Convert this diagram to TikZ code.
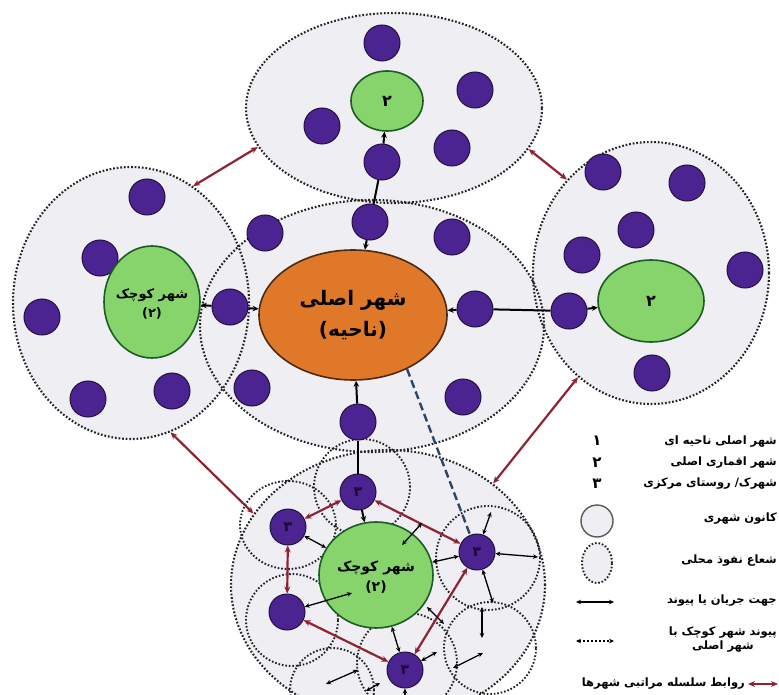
\documentclass[tikz,border=0pt]{standalone}
\usepackage{fontspec}
\usetikzlibrary{shapes.geometric,arrows.meta}
\TeXXeTstate=1
\newfontfamily\fa[Script=Arabic]{DejaVu Sans}
\newcommand{\rtlt}[1]{\beginR #1\endR}
\definecolor{pfill}{HTML}{4B2491}
\definecolor{pdraw}{HTML}{241040}
\definecolor{gfill}{HTML}{86D46B}
\definecolor{gdraw}{HTML}{1D5C24}
\definecolor{ofill}{HTML}{E0782A}
\definecolor{odraw}{HTML}{4E2A12}
\definecolor{cfill}{HTML}{EEEEF3}
\definecolor{dotc}{HTML}{222222}
\definecolor{redc}{HTML}{8E2333}
\definecolor{dashc}{HTML}{2C4668}
\definecolor{ptext}{HTML}{1A0A30}
\begin{document}
\begin{tikzpicture}[x=1pt,y=-1pt,
  dotb/.style={ellipse,draw=dotc,line width=2.1pt,dash pattern=on 1.7pt off 1.9pt,inner sep=0pt},
  dotl/.style={draw=dotc,line width=1.9pt,dash pattern=on 1.6pt off 1.9pt},
  pnode/.style={circle,fill=pfill,draw=pdraw,line width=1pt,minimum size=36pt,inner sep=0pt,
    text=ptext,font=\fa\bfseries\fontsize{14}{16}\selectfont},
  gnode/.style={ellipse,fill=gfill,draw=gdraw,line width=1.6pt,inner sep=0pt},
  onode/.style={ellipse,fill=ofill,draw=odraw,line width=1.6pt,inner sep=0pt,align=center,
    font=\fa\bfseries\fontsize{20}{31}\selectfont},
  gtxt/.style={align=center,inner sep=0pt,font=\fa\bfseries\fontsize{13}{19}\selectfont},
  plain/.style={line width=2pt,black},
  arr1/.style={line width=2pt,black,-{Stealth[length=6pt,width=5.5pt]}},
  conn/.style={line width=1.3pt,black,{Stealth[length=5pt,width=4.5pt]}-{Stealth[length=5pt,width=4.5pt]}},
  redarr/.style={line width=2.2pt,redc,{Stealth[length=7pt,width=6pt]}-{Stealth[length=7pt,width=6pt]}},
  dashl/.style={line width=2.4pt,dashc,dash pattern=on 8pt off 4pt},
  legtxt/.style={anchor=east,inner sep=0pt,align=center,font=\fa\bfseries\fontsize{11.5}{14}\selectfont},
  legnum/.style={inner sep=0pt,font=\fa\bfseries\fontsize{15}{17}\selectfont}
]
\useasboundingbox (0,0) rectangle (779,695);
\fill[white] (0,0) rectangle (779,695);

% cluster fills
\fill[cfill] (394,108) ellipse [x radius=148pt,y radius=95pt];
\fill[cfill] (131,303) ellipse [x radius=118pt,y radius=136pt];
\fill[cfill] (651,273) ellipse [x radius=118pt,y radius=131pt];
\fill[cfill] (372,326) ellipse [x radius=172pt,y radius=126pt];
\fill[cfill] (388,585) ellipse [x radius=157pt,y radius=135pt];

% cluster borders
\node[dotb,minimum width=296pt,minimum height=190pt] (ctop) at (394,108) {};
\node[dotb,minimum width=236pt,minimum height=272pt] (cleft) at (131,303) {};
\node[dotb,minimum width=236pt,minimum height=262pt] (cright) at (651,273) {};
\node[dotb,minimum width=344pt,minimum height=252pt] (ccen) at (372,326) {};
\node[dotb,minimum width=314pt,minimum height=270pt] (cbot) at (388,585) {};

% local influence circles (bottom cluster)
\draw[dotl] (362,487) circle [radius=48pt];
\draw[dotl] (288,525) ellipse [x radius=48pt,y radius=44pt];
\draw[dotl] (292,620) circle [radius=46pt];
\draw[dotl] (488,558) circle [radius=52pt];
\draw[dotl] (490,648) circle [radius=46pt];
\draw[dotl] (407,663) circle [radius=50pt];
\draw[dotl] (332,690) circle [radius=42pt];

% top cluster
\node[pnode] (p1) at (382,43) {};
\node[pnode] (p2) at (475,90) {};
\node[pnode] (p3) at (322,126) {};
\node[pnode] (p4) at (452,148) {};
\node[pnode] (p5) at (382,162) {};
\node[gnode,minimum width=72pt,minimum height=60pt] (gt) at (387,101) {};
\node[gtxt,font=\fa\bfseries\fontsize{16}{18}\selectfont] (gtt) at (387,101) {\rtlt{۲}};

% central cluster
\node[pnode] (c1) at (265,233) {};
\node[pnode] (c2) at (370,222) {};
\node[pnode] (c3) at (452,237) {};
\node[pnode] (cl) at (230,307) {};
\node[pnode] (cr) at (475,309) {};
\node[pnode] (c4) at (252,388) {};
\node[pnode] (c5) at (463,397) {};
\node[pnode] (c6) at (358,422) {};
\node[onode,minimum width=188pt,minimum height=130pt] (or) at (353,315) {\rtlt{شهر اصلی}\\\rtlt{(ناحیه)}};

% left cluster
\node[pnode] (l1) at (147,197) {};
\node[pnode] (l2) at (100,258) {};
\node[pnode] (l3) at (42,317) {};
\node[pnode] (l4) at (88,399) {};
\node[pnode] (l5) at (172,391) {};
\node[gnode,minimum width=96pt,minimum height=112pt] (gl) at (152,302) {};
\node[gtxt] (glt) at (152,304) {\rtlt{شهر کوچک}\\\rtlt{(۲)}};

% right cluster
\node[pnode] (r1) at (603,172) {};
\node[pnode] (r2) at (687,183) {};
\node[pnode] (r4) at (636,230) {};
\node[pnode] (r5) at (582,255) {};
\node[pnode] (r6) at (745,270) {};
\node[pnode] (rr) at (569,311) {};
\node[pnode] (r7) at (652,373) {};
\node[gnode,minimum width=106pt,minimum height=82pt] (gr) at (651,301) {};
\node[gtxt,font=\fa\bfseries\fontsize{16}{18}\selectfont] (grt) at (651,301) {\rtlt{۲}};

% bottom cluster
\node[gnode,minimum width=114pt,minimum height=106pt] (gb) at (376,575) {};
\node[gtxt,font=\fa\bfseries\fontsize{14}{20}\selectfont] (gbt) at (376,577) {\rtlt{شهر کوچک}\\\rtlt{(۲)}};
\node[pnode] (t3) at (358,492) {\rtlt{۳}};
\node[pnode] (lu) at (288,527) {\rtlt{۳}};
\node[pnode] (r3) at (477,552) {\rtlt{۳}};
\node[pnode] (ll) at (287,612) {};
\node[pnode] (b3) at (405,670) {\rtlt{۳}};

% main links
\draw[arr1] (p5) -- (gt);
\draw[plain] (c2) -- (p5);
\draw[arr1] (c2) -- (or);
\draw[arr1] (cl) -- (gl);
\draw[arr1] (cl) -- (or);
\draw[arr1] (cr) -- (or);
\draw[plain] (cr) -- (rr);
\draw[arr1] (rr) -- (gr);
\draw[arr1] (c6) -- (or);
\draw[plain] (c6) -- (t3);
\draw[arr1] (t3) -- (gb);

% hierarchy links between clusters
\draw[redarr] (cleft.62) -- (ctop.196);
\draw[redarr] (ctop.343) -- (cright.132);
\draw[redarr] (cleft.287) -- (cbot.152);
\draw[redarr] (cright.235) -- (cbot.44);

% dashed link small city - main city
\draw[dashl] (or.315) -- (r3.112);

% hierarchy links inside bottom cluster
\draw[redarr] (t3) -- (lu);
\draw[redarr] (t3) -- (r3);
\draw[redarr] (lu) -- (ll);
\draw[redarr] (ll) -- (b3);
\draw[redarr] (r3) -- (b3);

% flows inside bottom cluster
\coordinate (k1) at (352,593);
\coordinate (k2a) at (402,545); \coordinate (k2b) at (422,523);
\coordinate (k3) at (538,557);
\coordinate (k4) at (491,512);
\coordinate (k5) at (493,603);
\coordinate (k6a) at (482,607); \coordinate (k6b) at (482,638);
\coordinate (k7a) at (427,607); \coordinate (k7b) at (444,624);
\coordinate (k8a) at (453,668); \coordinate (k8b) at (483,653);
\coordinate (k9a) at (326,684); \coordinate (k9b) at (358,670);
\coordinate (k10a) at (366,691); \coordinate (k10b) at (380,683);
\coordinate (k11) at (437,652);
\coordinate (k12) at (405,700);
\draw[conn] (lu) -- (gb);
\draw[conn] (ll) -- (k1);
\draw[conn] (r3) -- (gb);
\draw[conn] (b3) -- (gb);
\draw[conn] (k2a) -- (k2b);
\draw[conn] (r3) -- (k3);
\draw[conn] (r3) -- (k4);
\draw[conn] (r3) -- (k5);
\draw[conn] (k6a) -- (k6b);
\draw[conn] (k7a) -- (k7b);
\draw[conn] (k8a) -- (k8b);
\draw[conn] (k9a) -- (k9b);
\draw[conn] (k10a) -- (k10b);
\draw[conn] (b3) -- (k11);
\draw[conn] (b3) -- (k12);

% legend
\node[legnum] (n1) at (597,441) {\rtlt{۱}};
\node[legtxt] (lg1) at (777,442) {\rtlt{شهر اصلی ناحیه ای}};
\node[legnum] (n2) at (597,463) {\rtlt{۲}};
\node[legtxt] (lg2) at (777,463) {\rtlt{شهر اقماری اصلی}};
\node[legnum] (n3) at (597,484) {\rtlt{۳}};
\node[legtxt] (lg3) at (777,484) {\rtlt{شهرک/ روستای مرکزی}};
\node[circle,draw=black!65,line width=1.4pt,fill=cfill,minimum size=32pt,inner sep=0pt] (sym1) at (597,521) {};
\node[legtxt] (lg4) at (777,519) {\rtlt{کانون شهری}};
\node[ellipse,draw=dotc,line width=1.9pt,dash pattern=on 1.6pt off 1.9pt,fill=cfill,minimum width=30pt,minimum height=40pt,inner sep=0pt] (sym2) at (597,563) {};
\node[legtxt] (lg5) at (777,561) {\rtlt{شعاع نفوذ محلی}};
\coordinate (a1) at (576,602); \coordinate (a2) at (614,602);
\draw[conn] (a1) -- (a2);
\node[legtxt] (lg6) at (777,601) {\rtlt{جهت جریان یا پیوند}};
\coordinate (b1) at (576,641); \coordinate (b2) at (614,641);
\draw[conn,dash pattern=on 2pt off 2pt] (b1) -- (b2);
\node[legtxt] (lg7) at (777,640) {\rtlt{پیوند شهر کوچک با}\\\rtlt{شهر اصلی}};
\coordinate (d1) at (748,684); \coordinate (d2) at (778,684);
\draw[redarr,line width=2.6pt] (d1) -- (d2);
\node[legtxt] (lg8) at (745,684) {\rtlt{روابط سلسله مراتبی شهرها}};
\end{tikzpicture}
\end{document}
